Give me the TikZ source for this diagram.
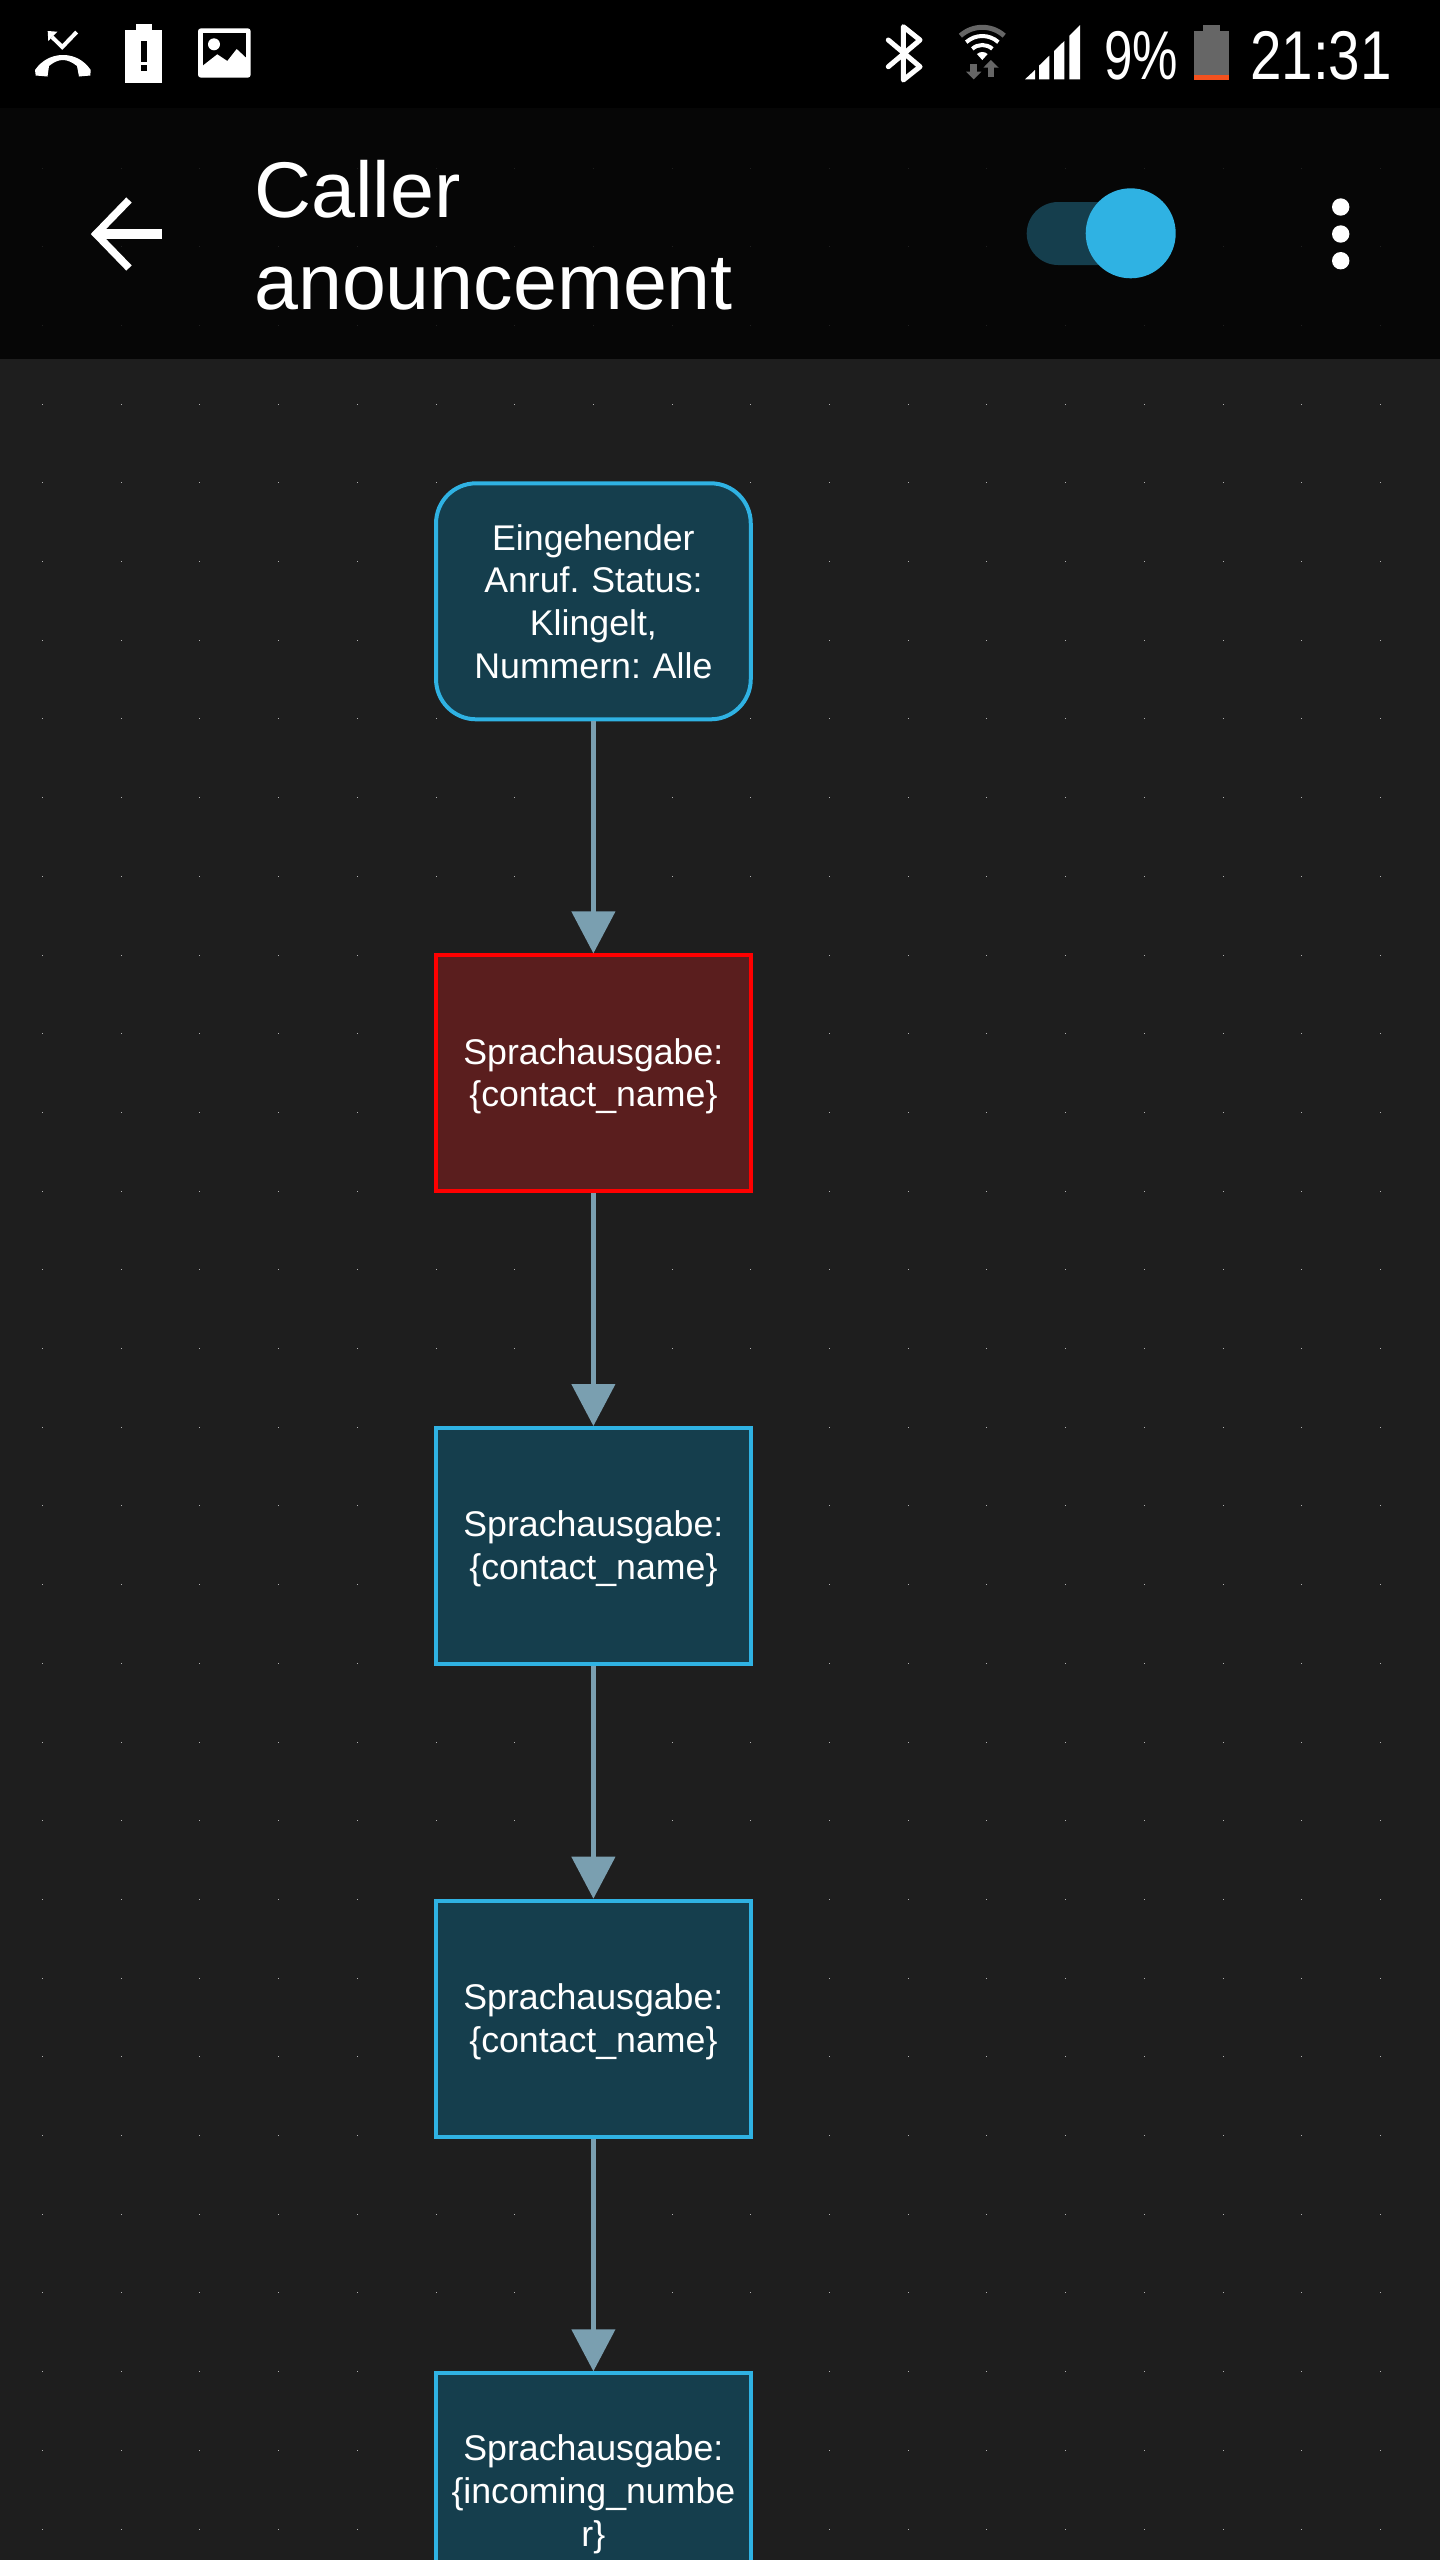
\documentclass[tikz,border=0pt]{standalone}
\usepackage{fontspec}
\setmainfont{Liberation Sans}
\newfontfamily\percentfont[FakeStretch=0.74]{Liberation Sans}
\newfontfamily\clockfont[FakeStretch=0.82]{Liberation Sans}
\usetikzlibrary{arrows.meta}
\frenchspacing
\definecolor{canvasgray}{HTML}{1E1E1E}
\definecolor{barblack}{HTML}{060606}
\definecolor{tealfill}{HTML}{153E4D}
\definecolor{skyline}{HTML}{2FB2E3}
\definecolor{redfill}{HTML}{5A1E1E}
\definecolor{arrowgray}{HTML}{7A9FB0}
\definecolor{icongray}{HTML}{666666}
\definecolor{lowcharge}{HTML}{F4511E}
\newcommand{\saytext}[1]{\raisebox{-3pt}[\height][\depth]{\parbox{310pt}{\centering #1}}}
\tikzset{
  sayboxbase/.style = {draw, line width = 4pt, inner sep = 0pt, minimum width = 314.7pt, minimum height = 236pt, text = white, font = \fontsize{35.7}{42.7}\selectfont},
  saybox/.style = {sayboxbase, draw = skyline, fill = tealfill},
  errorbox/.style = {sayboxbase, draw = red, fill = redfill},
  startbox/.style = {saybox, rounded corners = 40pt, text width = 310pt, align = center},
  flowline/.style = {draw = arrowgray, line width = 4.5pt, -{Triangle[length = 42pt, width = 43pt, fill = arrowgray]}},
  griddot/.style = {fill = gray!60},
  griddim/.style = {fill = white!12!black},
  icon/.style = {fill = white, draw = none}
}
\begin{document}
\begin{tikzpicture}[x = 1pt, y = -1pt]
\useasboundingbox (0,0) rectangle (1440,2560);
\clip (0,0) rectangle (1440,2560);
\pgfmathsetmacro\gridstep{78.7};
\fill[canvasgray] (0,0) rectangle (1440,2560);
\fill[barblack] (0,108) rectangle (1440,359);
\fill[black] (0,0) rectangle (1440,108);
% dot grid
\foreach \i in {0,...,17} {
  \foreach \j in {0,1,2} \fill[griddim] ({42+\i*\gridstep},{167.5+\j*\gridstep}) rectangle +(1,1);
  \foreach \j in {3,...,30} \fill[griddot] ({42+\i*\gridstep},{167.5+\j*\gridstep}) rectangle +(1,1);
}
% status icons, left
\fill[icon] (35,70) .. controls (42,60) and (52,55) .. (63,55) .. controls (74,55) and (84,60) .. (90.7,70) -- (90.3,75.5) -- (79,76.5) -- (77,66) .. controls (72,62) and (67,60) .. (63,60) .. controls (58,60) and (54,62) .. (49,66) -- (47.5,76.5) -- (35.7,75.5) -- cycle;
\draw[white, line width = 4pt] (52,37) -- (62.3,47) -- (76.7,32);
\fill[icon] (47.7,31) -- (57.3,31.7) -- (48.3,41) -- cycle;
\fill[icon] (125.3,29.7) rectangle (162,82.7);
\fill[icon] (136,24.3) rectangle (151.7,30);
\fill[black] (140.7,41) rectangle (146.7,61.7);
\fill[black] (140.7,65) rectangle (146.7,70.7);
\fill[icon, rounded corners = 3pt] (198,28.3) rectangle (250.7,77.7);
\fill[black] (202.7,33) rectangle (246,66);
\fill[icon] (202.7,65.7) -- (217.3,54.3) -- (227.3,61) -- (236.7,49) -- (246,57.7) -- (246,70) -- (202.7,70) -- cycle;
\fill[icon] (214,44.3) circle [radius = 6];
% status icons, right
\draw[white, line width = 5pt, line join = round, line cap = round] (888.3,40) -- (920,66.7) -- (903.3,80) -- (903.3,26.7) -- (920,40) -- (888.3,66.7);
\draw[icongray, line width = 5pt] (982.3,60) ++(-132:32.7) arc [start angle = -132, end angle = -48, radius = 32.7];
\draw[white, line width = 4pt] (982.3,60) ++(-132:24) arc [start angle = -132, end angle = -48, radius = 24];
\draw[white, line width = 4pt] (982.3,60) ++(-132:15) arc [start angle = -132, end angle = -48, radius = 15];
\fill[icon] (982.3,60) -- ++(-132:8) arc [start angle = -132, end angle = -48, radius = 8] -- cycle;
\fill[icongray] (970,63.5) rectangle (977,72);
\fill[icongray] (966,71.7) -- (981.3,71.7) -- (973.7,79.3) -- cycle;
\fill[icongray] (987.7,67) rectangle (994.3,76.7);
\fill[icongray] (983.3,67.7) -- (998.7,67.7) -- (990.9,60) -- cycle;
\fill[icon] (1025,79.3) -- (1035,70) -- (1035,79.3) -- cycle;
\fill[icon] (1039,79.3) -- (1039,65.7) -- (1049.3,55.7) -- (1049.3,79.3) -- cycle;
\fill[icon] (1054,79.3) -- (1054,51) -- (1064.3,41) -- (1064.3,79.3) -- cycle;
\fill[icon] (1069.3,79.3) -- (1069.3,35.7) -- (1080,25) -- (1080,79.3) -- cycle;
\node[anchor = base east, inner sep = 0pt, text = white, font = \fontsize{69}{69}\percentfont] (battlevel) at (1178,79) {9\%};
\fill[icongray] (1194,30.7) rectangle (1229,75);
\fill[icongray] (1203.3,25.3) rectangle (1220,31);
\fill[lowcharge] (1194,75) rectangle (1229,79.5);
\node[anchor = base west, inner sep = 0pt, text = white, font = \fontsize{69}{69}\clockfont] (clock) at (1250,79) {21:31};
% app bar
\draw[white, line width = 7.5pt, line join = miter] (129,200) -- (96,234) -- (129,268);
\draw[white, line width = 9.5pt] (98,234) -- (162,234);
\node[anchor = north west, inner sep = 0pt, text = white, align = left, font = \fontsize{79}{92.3}\selectfont] (title) at (254,160) {Caller\\anouncement};
\fill[tealfill, rounded corners = 31.5pt] (1026.7,202) rectangle (1165,265);
\fill[skyline] (1130.7,233.3) circle [radius = 45];
\foreach \y in {207,234,260.7} \fill[icon] (1340.7,\y) circle [radius = 8.7];
% flow
\node[startbox] (incoming) at (593.4,601.3) {Eingehender\\Anruf. Status:\\Klingelt,\\Nummern: Alle};
\node[errorbox] (sayfirst) at (593.4,1073.4) {\saytext{Sprachausgabe:\\\{contact\_name\}}};
\node[saybox] (saysecond) at (593.4,1546) {\saytext{Sprachausgabe:\\\{contact\_name\}}};
\node[saybox] (saythird) at (593.4,2018.7) {\saytext{Sprachausgabe:\\\{contact\_name\}}};
\node[saybox] (saynumber) at (593.4,2491.3) {\saytext{Sprachausgabe:\\\{incoming\_numbe\\r\}}};
\foreach \from/\to in {incoming/sayfirst,sayfirst/saysecond,saysecond/saythird,saythird/saynumber}
  \draw[flowline] (\from) -- (\to);
\end{tikzpicture}
\end{document}
